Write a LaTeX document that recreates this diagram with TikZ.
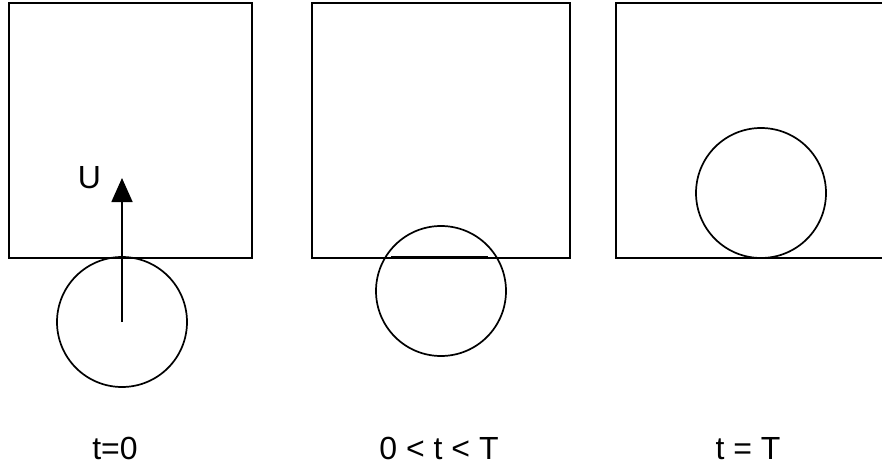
\documentclass[tikz,border=0pt]{standalone}
\usepackage{fontspec}
\setmainfont{Liberation Sans}
\usetikzlibrary{arrows.meta}

\begin{document}
\begin{tikzpicture}[x=1pt,y=-1pt,>={Triangle[length=24pt,width=21pt]},
  wall/.style={draw,line width=2pt},
  ball/.style={draw,circle,line width=1.7pt,minimum size=130pt,inner sep=0pt},
  lab/.style={font=\fontsize{32}{38}\selectfont,inner sep=0pt,anchor=base}]

\useasboundingbox (0,0) rectangle (882,468);
\clip (0,0) rectangle (882,468);

%% the three frames
\draw[wall] (9,3) rectangle (252,258);
\draw[wall] (312,3) rectangle (570,258);
\draw[wall] (616,3) rectangle (890,258);

%% t=0: the ball below the wall, moving up
\node[ball] (b1) at (122,322) {};
\coordinate (u1) at (122,178);
\draw[->,line width=1.7pt] (b1.center) -- (u1);
\node[lab] (u) at (89.5,188) {U};

%% 0<t<T: the ball crossing the wall
\node[ball] (b2) at (441,291) {};
\coordinate (c1) at (391,257);
\coordinate (c2) at (488,257);
\draw[line width=1.7pt] (c1) -- (c2);

%% t=T: the ball resting on the wall
\node[ball] (b3) at (761,193) {};

%% captions
\node[lab] (t1) at (115,459) {t=0};
\node[lab] (t2) at (439,459) {0 < t < T};
\node[lab] (t3) at (748,459) {t = T};
\end{tikzpicture}
\end{document}
